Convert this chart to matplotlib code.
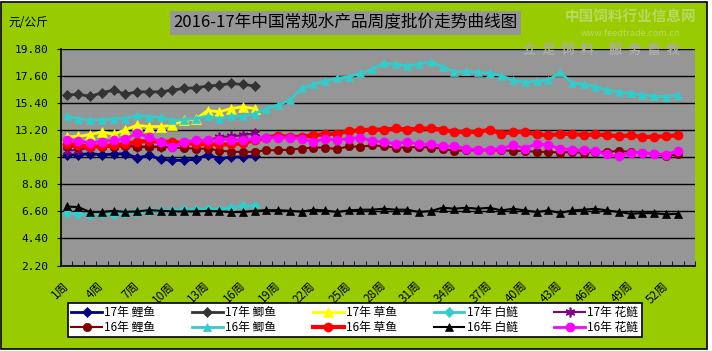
import matplotlib.pyplot as plt
from matplotlib.patches import Rectangle

plt.rcParams['font.family'] = ['Noto Sans CJK SC', 'DejaVu Sans']

# 周次标签（横轴共54格）
week_labels = [f"{i}周" for i in range(1, 55)]

# 2017年（1-17周）
carp_17 = [11.2, 11.2, 11.3, 11.2, 11.25, 11.3, 10.95, 11.15, 10.85, 10.75, 10.75, 10.85, 11.2, 10.9, 11.0, 11.05, 11.1]
crucian_17 = [16.05, 16.13, 15.95, 16.24, 16.46, 16.13, 16.32, 16.32, 16.32, 16.46, 16.6, 16.65, 16.79, 16.87, 17.0, 16.92, 16.8]
grass_17 = [12.66, 12.7, 12.85, 13.06, 12.87, 13.25, 13.6, 13.5, 13.5, 13.6, 14.0, 14.1, 14.8, 14.7, 14.96, 15.1, 14.96]
silver_17 = [6.5, 6.4, 6.3, 6.4, 6.35, 6.5, 6.55, 6.65, 6.6, 6.65, 6.7, 6.75, 6.8, 6.75, 6.9, 7.05, 7.05]
bighead_17 = [11.55, 11.6, 11.8, 11.9, 11.95, 12.0, 11.85, 11.9, 11.85, 11.9, 12.1, 12.2, 12.35, 12.65, 12.7, 12.8, 12.95]

# 2016年（1-53周）
carp_16 = [11.9, 11.85, 11.8, 11.85, 11.85, 11.9, 11.85, 11.8, 11.85, 11.8, 11.75,
           11.7, 11.7, 11.55, 11.45, 11.43, 11.45, 11.57, 11.57, 11.62,
           11.71, 11.79, 11.79, 11.65, 11.9, 11.84, 11.98, 11.9, 11.79, 11.79, 11.84, 11.79, 11.71,
           11.52, 11.57, 11.57, 11.57, 11.57, 11.52, 11.52, 11.44, 11.44, 11.38, 11.44, 11.35,
           11.44, 11.44, 11.52, 11.44, 11.35, 11.3, 11.08, 11.24]
crucian_16 = [14.35, 14.15, 14.0, 14.05, 14.15, 14.15, 14.4, 14.3, 14.25, 14.0,
              14.05, 14.15, 14.35, 14.15, 14.35, 14.35, 14.55, 14.95, 15.25, 15.65,
              16.6, 16.92, 17.22, 17.41, 17.55, 17.82, 18.14, 18.68, 18.55, 18.44, 18.58, 18.77,
              18.36, 17.95, 18.0, 17.9, 17.82, 17.63, 17.27, 17.08, 17.19, 17.27, 17.9,
              17.05, 16.92, 16.75, 16.47, 16.33, 16.19, 16.08, 15.97, 15.94, 16.08]
grass_16 = [12.1, 12.0, 11.85, 11.9, 11.98, 12.1, 12.25, 12.33, 12.25, 12.25,
            12.15, 12.1, 12.05, 12.05, 12.05, 12.15, 12.4, 12.6, 12.75, 12.65,
            12.66, 12.79, 12.87, 12.93, 13.12, 13.2, 13.25, 13.25, 13.34, 13.25, 13.34,
            13.34, 13.25, 13.06, 13.06, 13.06, 13.25, 12.93, 13.06, 13.06, 12.87, 12.79,
            12.87, 12.93, 12.79, 12.87, 12.79, 12.71, 12.79, 12.66, 12.66, 12.71, 12.79]
silver_16 = [7.0, 6.95, 6.55, 6.55, 6.65, 6.55, 6.6, 6.7, 6.65, 6.6,
             6.6, 6.6, 6.65, 6.6, 6.55, 6.55, 6.65, 6.7, 6.7, 6.65,
             6.58, 6.74, 6.68, 6.55, 6.68, 6.74, 6.74, 6.82, 6.74, 6.74, 6.55,
             6.63, 6.9, 6.82, 6.9, 6.82, 6.9, 6.68, 6.82, 6.68, 6.55, 6.68,
             6.46, 6.68, 6.74, 6.82, 6.68, 6.55, 6.41, 6.46, 6.46, 6.36, 6.41]
bighead_16 = [12.42, 12.32, 12.2, 12.28, 12.38, 12.5, 12.95, 12.66, 12.27, 11.84,
              12.25, 12.38, 12.38, 12.44, 12.44, 12.44, 12.52, 12.6, 12.58, 12.58,
              12.52, 12.25, 12.52, 12.38, 12.52, 12.6, 12.33, 12.25, 12.11, 12.25,
              12.06, 12.06, 11.9, 11.9, 11.71, 11.62, 11.62, 11.71, 11.98, 11.71,
              12.11, 11.98, 11.71, 11.62, 11.57, 11.52, 11.24, 11.08, 11.38, 11.38,
              11.3, 11.22, 11.52]

y_ticks = [2.2, 4.4, 6.6, 8.8, 11.0, 13.2, 15.4, 17.6, 19.8]

series = [
    ("17年 鲤鱼", carp_17, "#000080", "D", 5, 2),
    ("17年 鲫鱼", crucian_17, "#333333", "D", 5, 2),
    ("17年 草鱼", grass_17, "#FFFF00", "^", 6.5, 2),
    ("17年 白鲢", silver_17, "#33CCCC", "D", 5, 2),
    ("17年 花鲢", bighead_17, "#800080", (6, 2, 0), 7, 1.5),
    ("16年 鲤鱼", carp_16, "#800000", "o", 6, 1.5),
    ("16年 鲫鱼", crucian_16, "#33CCCC", "^", 6, 2),
    ("16年 草鱼", grass_16, "#FF0000", "o", 6.5, 3),
    ("16年 白鲢", silver_16, "#000000", "^", 5.5, 1.5),
    ("16年 花鲢", bighead_16, "#FF00FF", "o", 6.5, 2),
]

fig = plt.figure(figsize=(7.12, 3.51), dpi=100, facecolor="white")
fig.patches.append(Rectangle((0.002, 0.006), 0.991, 0.988, transform=fig.transFigure,
                             facecolor="#99CC00", edgecolor="black", linewidth=1.2, zorder=-10))

ax = fig.add_axes([0.0853, 0.2435, 0.8912, 0.6168])
ax.set_facecolor("#969696")

handles = {}
for label, vals, color, marker, ms, lw in series:
    x = list(range(1, len(vals) + 1))
    line, = ax.plot(x, vals, color=color, marker=marker, markersize=ms, linewidth=lw,
                    markeredgecolor=color, markeredgewidth=1.2 if marker == (6, 2, 0) else 0.5,
                    clip_on=False)
    handles[label] = line

ax.set_xlim(0.5, 54.5)
ax.set_ylim(2.2, 19.8)
ax.set_yticks(y_ticks)
ax.set_yticklabels([f"{v:.2f}" for v in y_ticks], family="DejaVu Sans Mono", fontsize=8)
ax.yaxis.grid(True, color="black", linewidth=1)
ax.set_axisbelow(True)

pos = list(range(1, 55, 3))
ax.set_xticks(pos)
ax.set_xticklabels([week_labels[p - 1] for p in pos], rotation=45, ha="right", va="center",
                   rotation_mode="anchor", fontsize=8.5)
ax.set_xticks([i + 0.5 for i in range(0, 55)], minor=True)
ax.tick_params(axis="x", which="major", length=0, pad=13)
ax.tick_params(axis="x", which="minor", direction="in", length=3.5, color="black")
ax.tick_params(axis="y", length=3, color="black", pad=6)

for s in ["top", "right"]:
    ax.spines[s].set_visible(False)
for s in ["left", "bottom"]:
    ax.spines[s].set_color("black")
    ax.spines[s].set_linewidth(1.2)

fig.text(0.012, 0.935, "元/公斤", fontsize=8.5, va="center")
fig.text(0.485, 0.935, "2016-17年中国常规水产品周度批价走势曲线图", fontsize=12,
         ha="center", va="center",
         bbox=dict(facecolor="#969696", edgecolor="none", pad=2.5))

# 水印
fig.text(0.885, 0.955, "中国饲料行业信息网", fontsize=10.5, ha="center", va="center",
         color="#B9D862", fontweight="bold")
fig.text(0.885, 0.905, "www.feedtrade.com.cn", fontsize=6.5, ha="center", va="center",
         color="#B9D862")
fig.text(0.845, 0.857, "立  足  饲  料     服  务  畜  牧", fontsize=9.5, ha="center", va="center",
         color="#ABABAB", style="italic", fontweight="bold")

order = ["17年 鲤鱼", "16年 鲤鱼", "17年 鲫鱼", "16年 鲫鱼", "17年 草鱼", "16年 草鱼",
         "17年 白鲢", "16年 白鲢", "17年 花鲢", "16年 花鲢"]
leg = fig.legend([handles[k] for k in order], order, ncol=5, loc="lower left",
                 bbox_to_anchor=(0.087, 0.022, 0.823, 0.105), mode="expand",
                 fontsize=8.5, frameon=True, fancybox=False, framealpha=1,
                 edgecolor="black", facecolor="white", handlelength=2.6,
                 handletextpad=0.2, borderpad=0.3, labelspacing=0.15, columnspacing=1.0)
leg.get_frame().set_linewidth(1.2)

plt.savefig("out.png", dpi=100, facecolor=fig.get_facecolor())
